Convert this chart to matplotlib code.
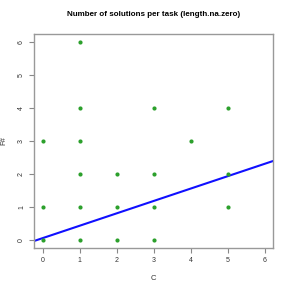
import matplotlib
matplotlib.use("Agg")
import matplotlib.pyplot as plt

plt.rcParams['font.family'] = ['Liberation Sans', 'DejaVu Sans']

c_vals = [0, 0, 0, 1, 1, 1, 1, 1, 1, 2, 2, 2, 3, 3, 3, 3, 4, 5, 5, 5]
f_vals = [0, 1, 3, 0, 1, 2, 3, 4, 6, 0, 1, 2, 0, 1, 2, 4, 3, 1, 2, 4]
fit_intercept = 0.06
fit_slope = 0.375
ticks = [0, 1, 2, 3, 4, 5, 6]

fig = plt.figure(figsize=(2.91, 2.91), dpi=100)
ax = fig.add_axes([0.117, 0.148, 0.821, 0.735])

ax.scatter(c_vals, f_vals, s=9, color='#2ca02c', zorder=3, linewidths=0)
ax.axline((0, fit_intercept), slope=fit_slope, color='#1010ff', lw=1.5, zorder=2)

ax.set_xlim(-0.24, 6.22)
ax.set_ylim(-0.24, 6.24)
ax.set_xticks(ticks)
ax.set_yticks(ticks)
ax.tick_params(colors='#888888', labelcolor='#333333', labelsize=5, length=3.5, width=0.8, pad=3)
for lab in ax.get_yticklabels():
    lab.set_rotation(90)
    lab.set_va('center')
for sp in ax.spines.values():
    sp.set_color('#999999')
    sp.set_linewidth(1)

ax.set_xlabel('C', fontsize=5.5, color='#333333', labelpad=8)
ax.set_ylabel('F#', fontsize=5.5, color='#333333', labelpad=8)
ax.set_title('Number of solutions per task (length.na.zero)', fontsize=5.8, fontweight='bold', pad=13)

fig.savefig('out.png', dpi=100)
